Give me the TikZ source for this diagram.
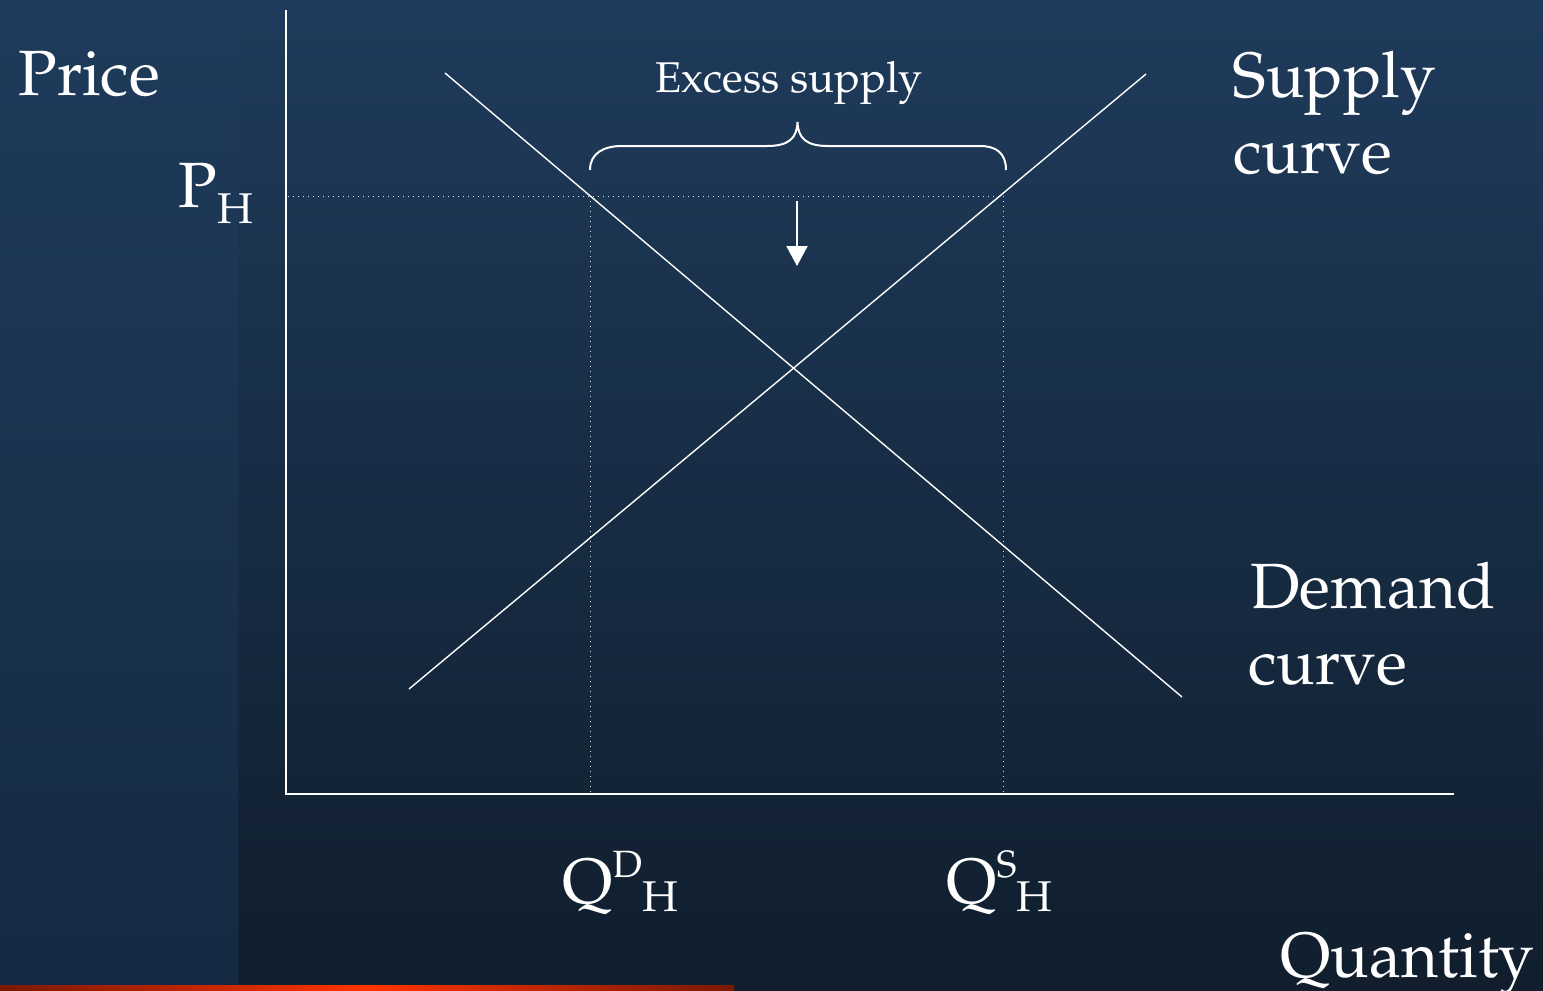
\documentclass[tikz,border=0pt]{standalone}
\usepackage[T1]{fontenc}
\usepackage{mathpazo}
\usetikzlibrary{arrows.meta}
\definecolor{bgtop}{HTML}{1F3B5B}
\definecolor{bgbot}{HTML}{101E2D}
\definecolor{striptop}{HTML}{1F3B5B}
\definecolor{stripbot}{HTML}{152A42}
\definecolor{bardark}{HTML}{7A1800}
\definecolor{barlight}{HTML}{FF3300}
\tikzset{
  axis/.style={white, line width=1pt},
  curveline/.style={white, line width=0.7pt},
  guide/.style={white!80!gray, line width=0.5pt, dotted},
  bigtxt/.style={white, inner sep=0pt, font=\fontsize{32}{38}\selectfont},
  midtxt/.style={white, inner sep=0pt, font=\fontsize{21.5}{26}\selectfont},
}
\newcommand{\subH}[1]{\raisebox{#1}{\fontsize{21.5}{22}\selectfont H}}
\newcommand{\supX}[1]{\raisebox{13pt}{\fontsize{19}{20}\selectfont #1}}
\begin{document}
\begin{tikzpicture}[x=0.5pt,y=-0.5pt]
\useasboundingbox (0,0) rectangle (1543,991);
% background
\shade[top color=bgtop, bottom color=bgbot] (0,0) rectangle (1543,991);
\shade[top color=striptop, bottom color=stripbot] (0,0) rectangle (238,991);
\shade[left color=bardark, right color=bardark, middle color=barlight] (0,985) rectangle (734,991);
% coordinates
\coordinate (ytop) at (286,10);
\coordinate (orig) at (286,794);
\coordinate (xend) at (1454,794);
\coordinate (d1) at (445,73);
\coordinate (d2) at (1182,697);
\coordinate (s1) at (409,689);
\coordinate (s2) at (1146,74);
\coordinate (ph) at (288,196);
\coordinate (qsTop) at (1003,196);
\coordinate (qdTop) at (590,196);
\coordinate (qdBot) at (590,792);
\coordinate (qsBot) at (1003,792);
\coordinate (arTop) at (797,201);
\coordinate (arTip) at (797,266);
% guides
\draw[guide] (ph) -- (qsTop);
\draw[guide] (qdTop) -- (qdBot);
\draw[guide] (qsTop) -- (qsBot);
% axes
\draw[axis] (ytop) -- (orig) -- (xend);
% curves
\draw[curveline] (d1) -- (d2);
\draw[curveline] (s1) -- (s2);
% brace
\draw[white, line width=1pt] (590,170) .. controls (590,153) and (604,146) .. (622,146)
  -- (767,146) .. controls (789,146) and (797,138) .. (797.5,122)
  .. controls (798,138) and (806,146) .. (828,146)
  -- (980,146) .. controls (996,146) and (1006,153) .. (1006,170);
% arrow
\draw[white, line width=1pt, -{Triangle[length=10pt,width=10.5pt]}] (arTop) -- (arTip);
% labels
\node[bigtxt, anchor=base west] (price) at (18,95) {Price};
\node[bigtxt, anchor=base west] (pH) at (178,207) {P\subH{-8pt}};
\node[midtxt, anchor=base] (excess) at (789,92) {Excess supply};
\node[bigtxt, anchor=base west] (supply) at (1232,97) {Supply};
\node[bigtxt, anchor=base west] (supplyc) at (1233,173) {curve};
\node[bigtxt, anchor=base west] (demand) at (1250,608) {Demand};
\node[bigtxt, anchor=base west] (demandc) at (1248,684) {curve};
\node[bigtxt, anchor=base west] (qd) at (562,903) {Q\supX{D}\subH{-4pt}};
\node[bigtxt, anchor=base west] (qs) at (946,903) {Q\supX{S}\subH{-4pt}};
\node[bigtxt, anchor=base west] (qty) at (1280,977) {Quantity};
\end{tikzpicture}
\end{document}
